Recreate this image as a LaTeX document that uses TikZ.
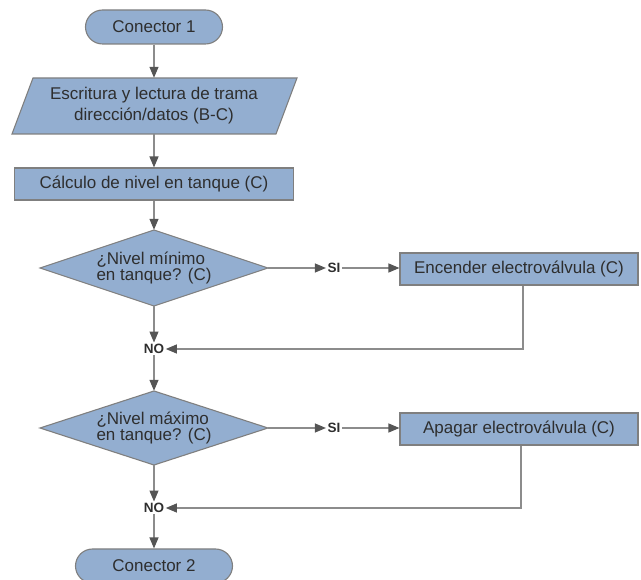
\documentclass[tikz,border=0pt]{standalone}
\usepackage{fontspec}
\setmainfont{Liberation Sans}
\usetikzlibrary{arrows.meta,shapes.geometric,calc}
\definecolor{boxfill}{HTML}{93AED0}
\definecolor{boxline}{HTML}{7F7F7F}
\definecolor{txt}{HTML}{2E2E2E}
\definecolor{conn}{HTML}{8C8C8C}
\definecolor{tipc}{HTML}{555555}
\begin{document}
\begin{tikzpicture}[x=1pt,y=-1pt, font=\fontsize{17}{20}\selectfont, text=txt,
 shapebox/.style={draw=boxline, fill=boxfill, line width=1.1pt},
 term/.style={shapebox, rounded corners=17pt, minimum height=34pt, inner sep=0pt},
 procbox/.style={shapebox, minimum height=32pt, inner sep=0pt},
 decision/.style={inner sep=0pt, minimum width=228pt, minimum height=76pt, align=left, font=\fontsize{17}{16}\selectfont},
 lbl/.style={font=\bfseries\fontsize{13.5}{14}\selectfont, inner sep=1.5pt},
 flow/.style={draw=conn, line width=1.2pt, -{Triangle[length=11pt,width=9pt,color=tipc]}}]
\useasboundingbox (0,0) rectangle (641,580);
\node[term, minimum width=137pt] (c1) at (154,27) {Conector 1};
\draw[shapebox] (12,134) -- (33,78) -- (297,78) -- (276,134) -- cycle;
\node[align=center, minimum height=56pt, inner sep=0pt, font=\fontsize{17}{21}\selectfont] (io) at (154,106) {Escritura y lectura de trama\\dirección/datos (B-C)};
\node[procbox, minimum width=279pt] (calc) at (154,184) {Cálculo de nivel en tanque (C)};
\draw[shapebox] (40,268) -- (154,230) -- (268,268) -- (154,306) -- cycle;
\node[decision] (d1) at (154,268) {¿Nivel mínimo\\en tanque? (C)};
\node[lbl] (si1) at (334,268) {SI};
\node[procbox, minimum width=238pt] (e1) at (519,269) {Encender electroválvula (C)};
\node[lbl] (no1) at (154,349) {NO};
\draw[shapebox] (40,428) -- (154,391) -- (268,428) -- (154,465) -- cycle;
\node[decision, minimum height=74pt] (d2) at (154,428) {¿Nivel máximo\\en tanque? (C)};
\node[lbl] (si2) at (334,428) {SI};
\node[procbox, minimum width=238pt] (e2) at (519,429) {Apagar electroválvula (C)};
\node[lbl] (no2) at (154,508) {NO};
\node[term, minimum width=157pt] (c2) at (154,566) {Conector 2};
\draw[flow] (c1) -- (io);
\draw[flow] (io) -- (calc);
\draw[flow] (calc) -- (d1.north);
\draw[flow] (d1.east) -- (si1);
\draw[flow] (si1) -- (e1.west |- si1);
\draw[flow] (d1.south) -- (no1);
\draw[flow] ([xshift=4pt]e1.south) |- (no1);
\draw[flow] (no1) -- (d2.north);
\draw[flow] (d2.east) -- (si2);
\draw[flow] (si2) -- (e2.west |- si2);
\draw[flow] (d2.south) -- (no2);
\draw[flow] ([xshift=2pt]e2.south) |- (no2);
\draw[flow] (no2) -- (c2);
\end{tikzpicture}
\end{document}
